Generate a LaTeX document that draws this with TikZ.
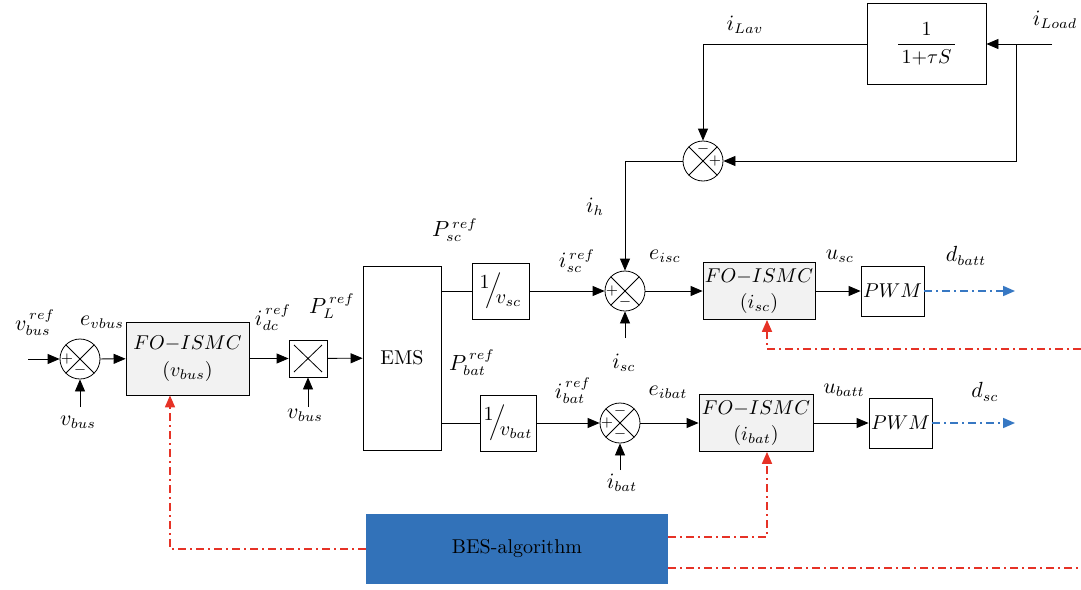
\documentclass[tikz,border=0pt]{standalone}
\usepackage{amssymb, amsmath}
\usepackage{tikz}
\usetikzlibrary{positioning, arrows.meta}
\definecolor{rojo}{RGB}{230,50,38}
\definecolor{azul}{RGB}{55,120,195}
\definecolor{azulbes}{RGB}{50,114,185}
\definecolor{gris}{RGB}{242,242,242}
\tikzset{
	>={Triangle[length=6pt,width=5pt]}, % punta de flecha triangular
	line width=0.7pt, % grosor de todas las lineas
	bloque/.style={draw, inner sep=0pt, align=center}, % bloques rectangulares
	control/.style={bloque, fill=gris}, % bloques FO-ISMC
	sumador/.style={draw, circle, minimum size=20pt, inner sep=0pt,
		path picture={\draw (path picture bounding box.north west) -- (path picture bounding box.south east)
			(path picture bounding box.north east) -- (path picture bounding box.south west);}}, % sumadores
	producto/.style={bloque, minimum width=19pt, minimum height=18.5pt,
		path picture={\draw ([shift={(2.5pt,2.5pt)}]path picture bounding box.south west) -- ([shift={(-2.5pt,-2.5pt)}]path picture bounding box.north east)
			([shift={(2.5pt,-2.5pt)}]path picture bounding box.south west |- path picture bounding box.north east) -- ([shift={(-2.5pt,2.5pt)}]path picture bounding box.north east |- path picture bounding box.south west);}}, % multiplicador
	signo/.style={inner sep=0pt, font=\scriptsize}, % signos de los sumadores
	etiqueta/.style={inner sep=1pt, font=\fontsize{10.5}{12}\selectfont}, % nombres de las senales
	aux/.style={rojo, line width=0.85pt, -{Triangle[length=6pt,width=5pt,fill=rojo]}, dash pattern=on 4pt off 2pt on 1pt off 2pt}, % lineas del algoritmo
	salida/.style={azul, line width=0.85pt, -{Triangle[length=6pt,width=5pt,fill=azul]}, dash pattern=on 4pt off 2pt on 1pt off 2pt} % senales de salida
}
\newcommand{\inv}[1]{$\raisebox{0.9ex}{$1$}\mkern-4mu\Big/\mkern-5mu\raisebox{-0.9ex}{$v_{#1}$}$}

\begin{document}
\begin{tikzpicture}[x=0.5pt, y=-0.5pt]
	\useasboundingbox (0,0) rectangle (1081,589);

	% lazo de tension del bus
	\node[sumador] (S1) at (80,359) {};
	\node[control, minimum width=61.5pt, minimum height=36.5pt] (F1) at (187.5,358.5) {$FO{-}ISMC$\\[1.5pt]$(v_{bus})$};
	\node[producto] (M) at (308,358.5) {};
	\node[bloque, minimum width=39pt, minimum height=92pt] (EMS) at (402,358) {EMS};

	% rama del supercondensador
	\node[bloque, minimum width=28.5pt, minimum height=28pt] (Vsc) at (500.5,291) {\inv{sc}};
	\node[sumador] (S2) at (625,291) {};
	\node[control, minimum width=56pt, minimum height=28.5pt] (F2) at (759,291) {$FO{-}ISMC$\\[1pt]$(i_{sc})$};
	\node[bloque, minimum width=31.5pt, minimum height=25pt] (PWM1) at (892.5,291) {$PWM$};

	% rama de la bateria
	\node[bloque, minimum width=28pt, minimum height=28pt] (Vbat) at (508,423) {\inv{bat}};
	\node[sumador] (S3) at (620,423) {};
	\node[control, minimum width=57pt, minimum height=28.5pt] (F3) at (756,423) {$FO{-}ISMC$\\[1pt]$(i_{bat})$};
	\node[bloque, minimum width=31.5pt, minimum height=25pt] (PWM2) at (900.5,423) {$PWM$};

	% filtro de la corriente de carga
	\node[bloque, minimum width=59.5pt, minimum height=40.5pt] (LPF) at (926.5,44) {$\dfrac{1}{\,1{+}\tau S\,}$};
	\node[sumador] (S4) at (703,161) {};

	% algoritmo de busqueda
	\node[bloque, draw=none, fill=azulbes, minimum width=151pt, minimum height=35pt] (BES) at (517,549) {BES-algorithm};

	% signos
	\node[signo] (S1a) at ([xshift=-6.5pt]S1.center) {$+$};
	\node[signo] (S1b) at ([yshift=-5.5pt]S1.center) {$-$};
	\node[signo] (S2a) at ([xshift=-6.5pt]S2.center) {$+$};
	\node[signo] (S2b) at ([yshift=-5.5pt]S2.center) {$-$};
	\node[signo] (S3a) at ([xshift=-6.5pt]S3.center) {$+$};
	\node[signo] (S3b) at ([yshift=-5.5pt]S3.center) {$-$};
	\node[signo] (S3c) at ([yshift=6pt]S3.center) {$-$};
	\node[signo] (S4a) at ([yshift=6pt]S4.center) {$-$};
	\node[signo] (S4b) at ([xshift=6pt]S4.center) {$+$};

	% extremos libres
	\coordinate (in1) at (28,359);
	\coordinate (vb1) at (80,407);
	\coordinate (vb2) at (308,407);
	\coordinate (isc) at (625,338);
	\coordinate (ibat) at (620,470);
	\coordinate (iload) at (1052,44);
	\coordinate (jn) at (1016,44);
	\coordinate (o1) at (1015,291);
	\coordinate (o2) at (1015,423);
	\coordinate (e1) at (1081,568);
	\coordinate (e2) at (1081,349);

	% etiquetas
	\node[etiqueta] (lvref) at (35,323) {$v_{bus}^{\,ref}$};
	\node[etiqueta] (lev) at (102,322) {$e_{vbus}$};
	\node[etiqueta] (lvb1) at (78,422) {$v_{bus}$};
	\node[etiqueta] (lidc) at (273,318) {$i_{dc}^{\,ref}$};
	\node[etiqueta] (lvb2) at (305,415) {$v_{bus}$};
	\node[etiqueta] (lPL) at (332,306) {$P_{L}^{\,ref}$};
	\node[etiqueta] (lPsc) at (455,230) {$P_{sc}^{\,ref}$};
	\node[etiqueta] (lPbat) at (472,363) {$P_{bat}^{\,ref}$};
	\node[etiqueta] (lisref) at (577,261) {$i_{sc}^{\,ref}$};
	\node[etiqueta] (leisc) at (665,256) {$e_{isc}$};
	\node[etiqueta] (lisc) at (624,363) {$i_{sc}$};
	\node[etiqueta] (libref) at (573,391) {$i_{bat}^{\,ref}$};
	\node[etiqueta] (leib) at (668,392) {$e_{ibat}$};
	\node[etiqueta] (libat) at (622,483) {$i_{bat}$};
	\node[etiqueta] (lusc) at (840,256) {$u_{sc}$};
	\node[etiqueta] (ldb) at (966,256) {$d_{batt}$};
	\node[etiqueta] (lub) at (844,390) {$u_{batt}$};
	\node[etiqueta] (ldsc) at (985,392) {$d_{sc}$};
	\node[etiqueta] (lLav) at (745,25) {$i_{Lav}$};
	\node[etiqueta] (lLoad) at (1055,20) {$i_{Load}$};
	\node[etiqueta] (lih) at (595,207) {$i_{h}$};

	% conexiones
	\draw[->] (in1) -- (S1);
	\draw[->] (vb1) -- (S1.south);
	\draw[->] (S1) -- (F1);
	\draw[->] (F1) -- (M);
	\draw[->] (vb2) -- (M.south);
	\draw[->] (M) -- (EMS);
	\draw (EMS.east |- Vsc.west) -- (Vsc.west);
	\draw (EMS.east |- Vbat.west) -- (Vbat.west);
	\draw[->] (Vsc) -- (S2);
	\draw[->] (isc) -- (S2.south);
	\draw[->] (S2) -- (F2);
	\draw[->] (F2) -- (PWM1);
	\draw[->] (Vbat) -- (S3);
	\draw[->] (ibat) -- (S3.south);
	\draw[->] (S3) -- (F3);
	\draw[->] (F3) -- (PWM2);
	\draw[->] (iload) -- (LPF.east);
	\draw[->] (jn) |- (S4.east);
	\draw[->] (LPF.west) -| (S4.north);
	\draw[->] (S4.west) -| (S2.north);
	\draw[salida] (PWM1.east) -- (o1);
	\draw[salida] (PWM2.east) -- (o2);
	\draw[aux] (BES.west) -| ([xshift=-8.75pt]F1.south);
	\draw[aux] ([yshift=6pt]BES.east) -| ([xshift=5.5pt]F3.south);
	\draw[aux, -] ([yshift=-9.5pt]BES.east) -- (e1);
	\draw[aux] (e2) -| ([xshift=4pt]F2.south);
\end{tikzpicture}
\end{document}
